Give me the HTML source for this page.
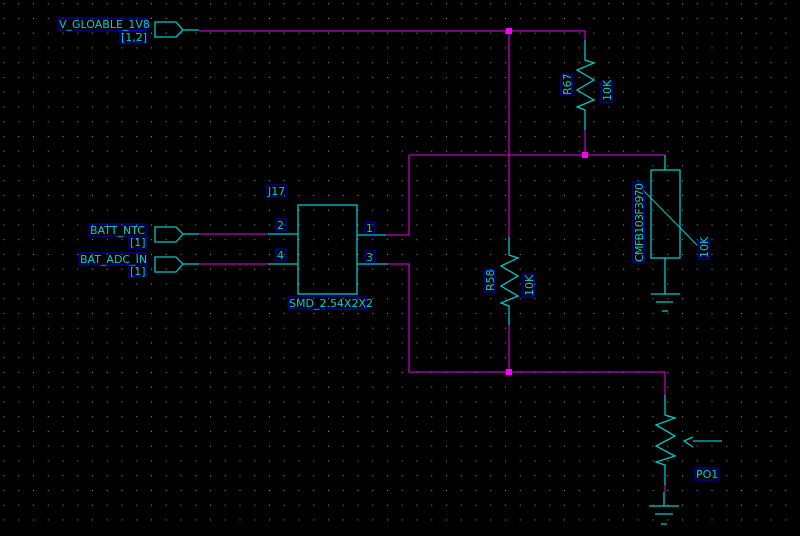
<!DOCTYPE html>
<html><head><style>
html,body{margin:0;padding:0;background:#000;}
svg text{font-family:"DejaVu Sans","Liberation Sans",sans-serif;font-size:11px;fill:#00d0d0;}
</style></head><body>
<svg width="800" height="531" viewBox="0 0 800 531" xmlns="http://www.w3.org/2000/svg">
<defs>
<pattern id="g" x="3.5" y="3.2" width="14.75" height="14.75" patternUnits="userSpaceOnUse">
<rect x="0" y="0" width="1" height="1" fill="#9a9a9a"/>
</pattern>
</defs>
<rect width="800" height="531" fill="#000"/>
<rect width="800" height="531" fill="url(#g)"/>
<g fill="none" stroke-width="1.3">
<!-- magenta wires -->
<g stroke="#c000c0">
<path d="M199 31H585V40"/>
<path d="M509 31V237M509 325V372"/>
<path d="M585 130V155M409 155H665"/>
<path d="M409 155V235H386"/>
<path d="M388 264H409V372H665V395"/>
<path d="M199 234H268M199 264H268"/>
<path d="M665 485V492"/>
</g>
<g stroke="#00c8c8">
<!-- ports -->
<path d="M155 22H176L183 30L176 37H155Z"/>
<path d="M183 30H199"/>
<path d="M155 227H176L183 234L176 242H155Z"/>
<path d="M183 234H199"/>
<path d="M155 257H176L183 264L176 272H155Z"/>
<path d="M183 264H199"/>
<!-- J17 -->
<rect x="298" y="205" width="59" height="89"/>
<path d="M268 234H298M268 264H298M357 235H386M357 264H388"/>
<!-- R67 -->
<path d="M585 40V60L594 63L577 70L594 80L577 90L594 100L577 107L585 110V130"/>
<!-- R58 -->
<path d="M509 237V255L518 258L501 266L518 276L501 286L518 296L501 303L509 306V325"/>
<!-- thermistor -->
<path d="M665 155V170"/>
<rect x="651" y="170" width="29" height="88"/>
<path d="M643 190L697 245" stroke-width="1"/>
<path d="M665 258V294M651 294H680M656 302H673M662 311H668"/>
<!-- pot -->
<path d="M665 395V415L675 418L656 425L675 436L656 446L675 456L656 462L665 465V485"/>
<path d="M664 492V506M649 506H679M655 514H673M661 524H667"/>
<path d="M693 441H722M693 437L684 441L693 447"/>
</g>
</g>
<!-- junctions -->
<g fill="#ff00ff">
<rect x="506" y="28" width="6" height="6"/>
<rect x="582" y="152" width="6" height="6"/>
<rect x="506" y="369" width="6" height="6"/>
</g>
<!-- label boxes -->
<g fill="none" stroke="#0000e0" stroke-width="1">
<rect x="58" y="18" width="88" height="12"/>
<rect x="120" y="31" width="26" height="12"/>
<rect x="89" y="224" width="57" height="12"/>
<rect x="129" y="236" width="17" height="12"/>
<rect x="79" y="253" width="67" height="12"/>
<rect x="129" y="265" width="17" height="12"/>
<rect x="267" y="185" width="19" height="12"/>
<rect x="276" y="219" width="10" height="12"/>
<rect x="276" y="249" width="10" height="12"/>
<rect x="365" y="222" width="10" height="12"/>
<rect x="365" y="251" width="10" height="12"/>
<rect x="288" y="297" width="78" height="12"/>
<rect x="561" y="75" width="11" height="20"/>
<rect x="601" y="82" width="11" height="20"/>
<rect x="633" y="182" width="11" height="80"/>
<rect x="698" y="240" width="11" height="19"/>
<rect x="484" y="270" width="11" height="22"/>
<rect x="523" y="275" width="11" height="22"/>
<rect x="695" y="468" width="23" height="12"/>
</g>
<text x="59" y="28">V_GLOABLE_1V8</text>
<text x="121" y="41">[1,2]</text>
<text x="90" y="234">BATT_NTC</text>
<text x="130" y="246">[1]</text>
<text x="80" y="263">BAT_ADC_IN</text>
<text x="130" y="275">[1]</text>
<text x="268" y="195">J17</text>
<text x="277" y="229">2</text>
<text x="277" y="259">4</text>
<text x="366" y="232">1</text>
<text x="366" y="261">3</text>
<text x="289" y="307">SMD_2.54X2X2</text>
<text x="696" y="478">PO1</text>
<text transform="translate(571,95) rotate(-90)">R67</text>
<text transform="translate(611,101) rotate(-90)">10K</text>
<text transform="translate(643,262) rotate(-90)" textLength="79">CMFB103F3970</text>
<text transform="translate(708,258) rotate(-90)">10K</text>
<text transform="translate(494,291) rotate(-90)">R58</text>
<text transform="translate(533,296) rotate(-90)">10K</text>
</svg>
</body></html>
